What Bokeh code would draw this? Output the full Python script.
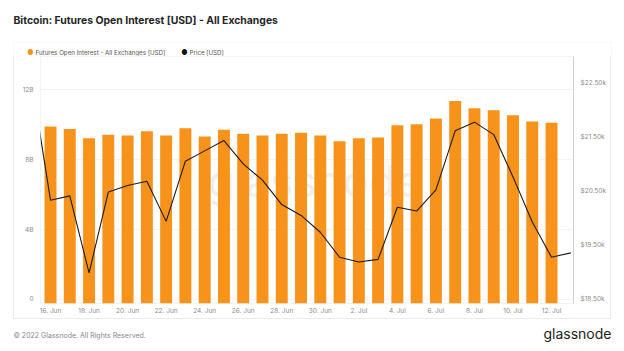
import pandas as pd
from bokeh.plotting import figure
from bokeh.layouts import column, row
from bokeh.models import (Range1d, LinearAxis, FixedTicker, Label, BoxAnnotation,
                          Spacer)
from bokeh.embed import file_html
from bokeh.resources import INLINE

# ---------------- data ----------------
bar_dates = pd.date_range("2022-06-16", "2022-07-12", freq="D")
open_interest_b = [9.89, 9.75, 9.22, 9.41, 9.37, 9.62, 9.37, 9.79, 9.31, 9.70,
                   9.47, 9.37, 9.47, 9.53, 9.37, 9.05, 9.22, 9.26, 9.96, 10.02,
                   10.34, 11.35, 10.93, 10.82, 10.53, 10.17, 10.10]
price_dates = pd.date_range("2022-06-15", "2022-07-13", freq="D")
price_k = [22.58, 20.33, 20.41, 18.99, 20.48, 20.60, 20.68, 19.94, 21.05, 21.24,
           21.43, 21.00, 20.70, 20.25, 20.05, 19.74, 19.28, 19.19, 19.24, 20.20,
           20.13, 20.52, 21.61, 21.77, 21.54, 20.76, 19.93, 19.28, 19.36]
x_tick_dates = pd.date_range("2022-06-16", "2022-07-12", freq="2D")
x_tick_labels = ["16. Jun", "18. Jun", "20. Jun", "22. Jun", "24. Jun", "26. Jun",
                 "28. Jun", "30. Jun", "2. Jul", "4. Jul", "6. Jul", "8. Jul",
                 "10. Jul", "12. Jul"]
left_ticks = [0, 4, 8, 12]
left_labels = ["0", "4B", "8B", "12B"]
right_ticks = [18.5, 19.5, 20.5, 21.5, 22.5]
right_labels = ["$18.50k", "$19.50k", "$20.50k", "$21.50k", "$22.50k"]

title_text = "Bitcoin: Futures Open Interest [USD] - All Exchanges"
legend_oi = "Futures Open Interest - All Exchanges [USD]"
legend_price = "Price [USD]"
footer_text = "\u00a9 2022 Glassnode. All Rights Reserved."
brand_text = "glassnode"

origin = pd.Timestamp("2022-06-16")
bar_x = [(d - origin).days for d in bar_dates]
price_x = [(d - origin).days for d in price_dates]
tick_x = [(d - origin).days for d in x_tick_dates]

FONT = "Inter"
ORANGE = "#f7931a"
CARD = "#ebebeb"
W, H = 624, 351
BOX_L, BOX_R, BOX_T, BOX_B = 13, 611, 42, 319      # chart card on the page
FL, FR, FT, FB = 39, 572, 56, 303                  # plot frame on the page
MW, MH = BOX_R - BOX_L, BOX_B - FT


def blank(width, height):
    f = figure(width=width, height=height, output_backend="svg", toolbar_location=None,
               x_range=Range1d(0, width), y_range=Range1d(0, height),
               x_axis_type=None, y_axis_type=None, min_border=0)
    f.outline_line_color = None
    f.grid.visible = False
    return f


# ---------------- header (title, legend, top of the card) ----------------
HH = FT
head = blank(W, HH)
head.add_layout(BoxAnnotation(left=BOX_L, right=BOX_R, top=HH - BOX_T, bottom=-5,
                              fill_alpha=0, line_color=CARD, line_width=1))
head.add_layout(Label(x=13, y=HH - 20, text=title_text, text_font=FONT,
                      text_font_size="10.4px", text_font_style="bold",
                      text_color="#262626", text_baseline="middle"))
LY = HH - 52
head.add_layout(Label(x=30, y=LY, text="\u25cf", text_font=FONT, text_font_size="7px",
                      text_color=ORANGE, text_align="center", text_baseline="middle"))
head.add_layout(Label(x=35, y=LY, text=legend_oi, text_font=FONT, text_font_size="6.2px",
                      text_color="#555555", text_baseline="middle"))
head.add_layout(Label(x=184, y=LY, text="\u25cf", text_font=FONT, text_font_size="7px",
                      text_color="#111111", text_align="center", text_baseline="middle"))
head.add_layout(Label(x=189, y=LY, text=legend_price, text_font=FONT, text_font_size="6.2px",
                      text_color="#555555", text_baseline="middle"))

# ---------------- main chart ----------------
p = figure(width=MW, height=MH, output_backend="svg", toolbar_location=None,
           x_range=Range1d(-0.52, 27.14), y_range=Range1d(-0.23, 13.89),
           min_border_left=FL - BOX_L, min_border_right=BOX_R - FR,
           min_border_top=0, min_border_bottom=BOX_B - FB,
           styles={"border-left": f"1px solid {CARD}", "border-right": f"1px solid {CARD}",
                   "border-bottom": f"1px solid {CARD}", "box-sizing": "border-box"})
p.outline_line_color = "#f3f3f3"
p.xgrid.grid_line_color = None
p.ygrid.grid_line_color = "#f4f4f4"
p.ygrid.ticker = FixedTicker(ticks=left_ticks)
p.extra_y_ranges = {"price": Range1d(18.426, 22.98)}

p.add_layout(Label(x=313 - FL, y=FB - 180, x_units="screen", y_units="screen",
                   text="glassnode", text_font=FONT, text_font_size="44px",
                   text_color="#efefef", text_align="center", text_baseline="middle",
                   level="underlay"))

p.vbar(x=bar_x, top=open_interest_b, bottom=-0.23, width=0.62,
       fill_color=ORANGE, line_color=None)
p.line(x=price_x, y=price_k, y_range_name="price", line_color="#1b1b1b", line_width=1.1)

xa = p.xaxis[0]
xa.ticker = FixedTicker(ticks=tick_x)
xa.major_label_overrides = {t: l for t, l in zip(tick_x, x_tick_labels)}
ya = p.yaxis[0]
ya.ticker = FixedTicker(ticks=left_ticks)
ya.major_label_overrides = {t: l for t, l in zip(left_ticks, left_labels)}
ra = LinearAxis(y_range_name="price", ticker=FixedTicker(ticks=right_ticks))
ra.major_label_overrides = {t: l for t, l in zip(right_ticks, right_labels)}
p.add_layout(ra, "right")

for ax in (xa, ya, ra):
    ax.major_label_text_font = FONT
    ax.major_label_text_font_size = "6.5px"
    ax.major_label_text_color = "#8a8a8a"
    ax.major_tick_line_color = None
    ax.minor_tick_line_color = None
    ax.major_tick_out = 0
    ax.major_tick_in = 0
    ax.minor_tick_out = 0
    ax.axis_line_color = None
    ax.major_label_standoff = 7
xa.major_label_standoff = 3
ra.axis_line_color = "#d0d0d0"

# ---------------- footer ----------------
FH = H - BOX_B
foot = blank(W, FH)
foot.add_layout(Label(x=13, y=FH - (335 - BOX_B), text=footer_text, text_font=FONT,
                      text_font_size="7px", text_color="#888888",
                      text_baseline="middle"))
foot.add_layout(Label(x=611, y=FH - (333 - BOX_B), text=brand_text, text_font=FONT,
                      text_font_size="14px", text_color="#222222",
                      text_align="right", text_baseline="middle"))

middle = row(Spacer(width=BOX_L, height=MH), p, Spacer(width=W - BOX_R, height=MH))
page = column(head, middle, foot)

open("out.html", "w").write(file_html(page, INLINE))
